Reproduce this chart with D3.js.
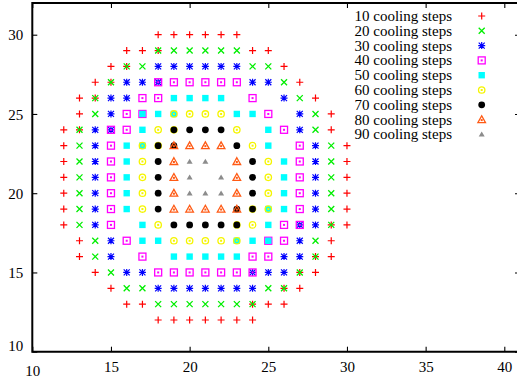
<!DOCTYPE html>
<html>
<head>
<meta charset="utf-8">
<script src="https://cdn.jsdelivr.net/npm/d3@7"></script>
<style>
  body { margin: 0; background: #fff; }
  svg { display: block; }
  text { font-family: "Liberation Serif", "DejaVu Serif", serif; font-size: 15px; fill: #000; }
</style>
</head>
<body>
<svg id="chart" width="517" height="382"></svg>
<script>
// series labels, in drawing order
const seriesLabels = ['10 cooling steps', '20 cooling steps', '30 cooling steps', '40 cooling steps',
  '50 cooling steps', '60 cooling steps', '70 cooling steps', '80 cooling steps', '90 cooling steps'];

// lattice sites [x, y] for each series
const steps10 = [
  [18,30],[19,30],[20,30],[21,30],[22,30],[23,30],
  [16,29],[17,29],[18,29],[24,29],[25,29],
  [15,28],[16,28],[26,28],
  [14,27],[15,27],[27,27],
  [13,26],[14,26],[28,26],
  [13,25],[29,25],
  [12,24],[13,24],[29,24],
  [12,23],[30,23],[12,22],[30,22],[12,21],[30,21],[12,20],[30,20],[12,19],[30,19],
  [12,18],[29,18],[30,18],
  [13,17],[29,17],
  [13,16],[28,16],[29,16],
  [14,15],[27,15],[28,15],
  [15,14],[26,14],[27,14],
  [16,13],[17,13],[24,13],[25,13],[26,13],
  [18,12],[19,12],[20,12],[21,12],[22,12],[23,12],[24,12]
];
const steps20 = [
  [18,29],[19,29],[20,29],[21,29],[22,29],[23,29],
  [16,28],[17,28],[24,28],[25,28],
  [15,27],[26,27],
  [14,26],[27,26],
  [14,25],[28,25],
  [13,24],[28,24],
  [13,23],[29,23],[13,22],[29,22],[13,21],[29,21],[13,20],[29,20],[13,19],[29,19],[13,18],[29,18],
  [14,17],[28,17],
  [14,16],[28,16],
  [15,15],[27,15],
  [16,14],[17,14],[25,14],[26,14],
  [18,13],[19,13],[20,13],[21,13],[22,13],[23,13],[24,13]
];
const steps30 = [
  [18,28],[19,28],[20,28],[21,28],[22,28],[23,28],
  [16,27],[17,27],[18,27],[24,27],[25,27],
  [15,26],[16,26],[26,26],
  [15,25],[27,25],
  [14,24],[15,24],[27,24],
  [14,23],[28,23],[14,22],[28,22],[14,21],[28,21],[14,20],[28,20],[14,19],[28,19],
  [14,18],[27,18],[28,18],
  [15,17],[27,17],
  [15,16],[26,16],[27,16],
  [16,15],[17,15],[24,15],[25,15],[26,15],
  [18,14],[19,14],[20,14],[21,14],[22,14],[23,14],[24,14]
];
const steps40 = [
  [18,27],[19,27],[20,27],[21,27],[22,27],[23,27],
  [17,26],[18,26],[24,26],
  [16,25],[17,25],[25,25],
  [15,24],[16,24],[26,24],
  [15,23],[27,23],[15,22],[27,22],[15,21],[27,21],[15,20],[27,20],[15,19],[27,19],
  [15,18],[26,18],[27,18],
  [16,17],[25,17],[26,17],
  [17,16],[24,16],[25,16],
  [18,15],[19,15],[20,15],[21,15],[22,15],[23,15],[24,15]
];
const steps50 = [
  [19,26],[20,26],[21,26],[22,26],
  [17,25],[18,25],[19,25],[23,25],[24,25],
  [17,24],[25,24],
  [16,23],[17,23],[25,23],
  [16,22],[26,22],[16,21],[26,21],[16,20],[26,20],
  [16,19],[25,19],[26,19],
  [17,18],[25,18],
  [17,17],[18,17],[23,17],[24,17],[25,17],
  [19,16],[20,16],[21,16],[22,16],[23,16]
];
const steps60 = [
  [19,25],[20,25],[21,25],[22,25],
  [18,24],[19,24],[23,24],
  [17,23],[18,23],[24,23],
  [17,22],[25,22],[17,21],[25,21],[17,20],[25,20],
  [17,19],[24,19],[25,19],
  [18,18],[23,18],[24,18],
  [19,17],[20,17],[21,17],[22,17],[23,17]
];
const steps70 = [
  [19,24],[20,24],[21,24],[22,24],
  [18,23],[19,23],[23,23],
  [18,22],[24,22],[18,21],[24,21],[18,20],[24,20],
  [18,19],[23,19],[24,19],
  [19,18],[20,18],[21,18],[22,18],[23,18]
];
const steps80 = [
  [19,23],[20,23],[21,23],[22,23],
  [19,22],[23,22],[19,21],[23,21],[19,20],[23,20],
  [19,19],[20,19],[21,19],[22,19],[23,19]
];
const steps90 = [
  [20,22],[21,22],
  [20,21],[22,21],
  [20,20],[21,20],[22,20]
];
const seriesPoints = [steps10, steps20, steps30, steps40, steps50, steps60, steps70, steps80, steps90];

const xTicks = [10, 15, 20, 25, 30, 35, 40];
const yTicks = [10, 15, 20, 25, 30];

// gnuplot-like point types and colours
const markerStyles = [
  { shape: 'plus', color: '#ff0000' },
  { shape: 'cross', color: '#00ee00' },
  { shape: 'star', color: '#0000ff' },
  { shape: 'box', color: '#ff00ff' },
  { shape: 'fbox', color: '#00ffff' },
  { shape: 'circle', color: '#f5f500' },
  { shape: 'fcircle', color: '#000000' },
  { shape: 'triangle', color: '#ff5a14' },
  { shape: 'ftriangle', color: '#8c8c8c' }
];

const W = 517, H = 382;
const plotLeft = 32.3, plotRight = 520, plotTop = 3, plotBottom = 351.7;
const serif = '"Liberation Serif", "DejaVu Serif", serif';

const x = d3.scaleLinear().domain([10, 40]).range([plotLeft, 504.3]);
const y = d3.scaleLinear().domain([10, 32]).range([plotBottom, plotTop]);

const svg = d3.select('#chart');
svg.append('rect').attr('width', W).attr('height', H).attr('fill', '#fff');

// strip d3's default axis styling so the serif font applies
const plainAxis = g => {
  g.attr('font-family', null).attr('font-size', null);
  g.select('.domain').remove();
  g.selectAll('line').attr('stroke-width', 1.1);
  g.selectAll('text').style('font-family', serif).style('font-size', '15px').attr('fill', '#000');
};

// ticks on all four sides, pointing inward
const tickLen = 5;
svg.append('g').attr('transform', `translate(0,${plotBottom})`)
  .call(d3.axisBottom(x).tickValues(xTicks).tickSizeInner(-tickLen).tickSizeOuter(0).tickFormat(d3.format('d')))
  .call(plainAxis)
  .call(g => g.selectAll('text').attr('y', 20).attr('dy', d => d === 10 ? 4 : 0));

svg.append('g').attr('transform', `translate(0,${plotTop})`)
  .call(d3.axisTop(x).tickValues(xTicks).tickSizeInner(-tickLen).tickSizeOuter(0).tickFormat(''))
  .call(plainAxis);

svg.append('g').attr('transform', `translate(${plotLeft},0)`)
  .call(d3.axisLeft(y).tickValues(yTicks).tickSizeInner(-tickLen).tickSizeOuter(0).tickFormat(d3.format('d')))
  .call(plainAxis)
  .call(g => g.selectAll('text').attr('x', -9).attr('dy', d => d === 10 ? '-0.05em' : '0.35em'));

svg.append('g').attr('transform', `translate(${plotRight},0)`)
  .call(d3.axisRight(y).tickValues(yTicks).tickSizeInner(-tickLen).tickSizeOuter(0).tickFormat(''))
  .call(plainAxis);

// border
svg.append('path')
  .attr('d', `M${plotLeft},${plotTop}H${plotRight}V${plotBottom}H${plotLeft}Z`)
  .attr('fill', 'none').attr('stroke', '#000').attr('stroke-width', 2);

function drawMarker(g, style) {
  const c = style.color;
  switch (style.shape) {
    case 'plus':
      g.append('path').attr('d', 'M-3.5,0H3.5M0,-3.5V3.5').attr('stroke', c).attr('stroke-width', 1.2);
      break;
    case 'cross':
      g.append('path').attr('d', 'M-3,-3L3,3M-3,3L3,-3').attr('stroke', c).attr('stroke-width', 1.3);
      break;
    case 'star':
      g.append('path').attr('d', 'M-3.5,0H3.5M0,-3.5V3.5M-3,-3L3,3M-3,3L3,-3').attr('stroke', c).attr('stroke-width', 1.2);
      break;
    case 'box':
      g.append('rect').attr('x', -3.5).attr('y', -3.5).attr('width', 7).attr('height', 7)
        .attr('fill', 'none').attr('stroke', c).attr('stroke-width', 1.3);
      g.append('rect').attr('x', -1).attr('y', -1).attr('width', 2).attr('height', 2).attr('fill', c);
      break;
    case 'fbox':
      g.append('rect').attr('x', -3.2).attr('y', -3.2).attr('width', 6.4).attr('height', 6.4).attr('fill', c);
      break;
    case 'circle':
      g.append('circle').attr('r', 3.2).attr('fill', 'none').attr('stroke', c).attr('stroke-width', 1.3);
      g.append('rect').attr('x', -1).attr('y', -1).attr('width', 2).attr('height', 2).attr('fill', c);
      break;
    case 'fcircle':
      g.append('circle').attr('r', 3.4).attr('fill', c);
      break;
    case 'triangle':
      g.append('path').attr('d', 'M0,-3.8L3.8,3L-3.8,3Z').attr('fill', 'none').attr('stroke', c).attr('stroke-width', 1.3);
      g.append('rect').attr('x', -1).attr('y', -0.5).attr('width', 2).attr('height', 2).attr('fill', c);
      break;
    case 'ftriangle':
      g.append('path').attr('d', 'M0,-2.8L3,2.2L-3,2.2Z').attr('fill', c);
      break;
  }
}

// points, later series on top
seriesPoints.forEach((pts, i) => {
  const layer = svg.append('g').attr('class', 'series-' + i);
  layer.selectAll('g').data(pts).join('g')
    .attr('transform', d => `translate(${x(d[0])},${y(d[1])})`)
    .each(function () { drawMarker(d3.select(this), markerStyles[i]); });
});

// key
const keyTextX = 452, keyMarkX = 481.7, keyY0 = 16, keyStep = 14.8;
const key = svg.append('g');
seriesLabels.forEach((label, i) => {
  const cy = keyY0 + i * keyStep;
  key.append('text').attr('x', keyTextX).attr('y', cy).attr('dy', '0.33em')
    .attr('text-anchor', 'end').text(label);
  drawMarker(key.append('g').attr('transform', `translate(${keyMarkX},${cy})`), markerStyles[i]);
});
</script>
</body>
</html>
